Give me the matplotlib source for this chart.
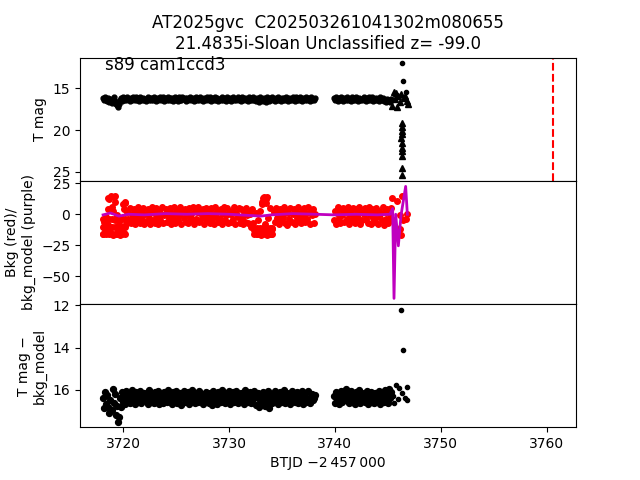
import matplotlib
matplotlib.use('Agg')
import matplotlib.pyplot as plt

# observation times, BTJD - 2457000
btjd = [3718.1, 3718.2, 3718.3, 3718.4, 3718.5, 3718.6, 3718.7, 3718.8, 3718.9, 3719.0,
        3719.1, 3719.2, 3719.3, 3719.4, 3719.5, 3719.6, 3719.7, 3719.8, 3719.9, 3720.0,
        3720.1, 3720.2, 3720.3, 3720.4, 3720.5, 3720.6, 3720.7, 3720.8, 3720.9, 3721.0,
        3721.1, 3721.2, 3721.3, 3721.4, 3721.5, 3721.6, 3721.7, 3721.8, 3721.9, 3722.0,
        3722.1, 3722.2, 3722.3, 3722.4, 3722.5, 3722.6, 3722.7, 3722.8, 3722.9, 3723.0,
        3723.1, 3723.2, 3723.3, 3723.4, 3723.5, 3723.6, 3723.7, 3723.8, 3723.9, 3724.0,
        3724.1, 3724.2, 3724.3, 3724.4, 3724.5, 3724.6, 3724.7, 3724.8, 3724.9, 3725.0,
        3725.1, 3725.2, 3725.3, 3725.4, 3725.5, 3725.6, 3725.7, 3725.8, 3725.9, 3726.0,
        3726.1, 3726.2, 3726.3, 3726.4, 3726.5, 3726.6, 3726.7, 3726.8, 3726.9, 3727.0,
        3727.1, 3727.2, 3727.3, 3727.4, 3727.5, 3727.6, 3727.7, 3727.8, 3727.9, 3728.0,
        3728.1, 3728.2, 3728.3, 3728.4, 3728.5, 3728.6, 3728.7, 3728.8, 3728.9, 3729.0,
        3729.1, 3729.2, 3729.3, 3729.4, 3729.5, 3729.6, 3729.7, 3729.8, 3729.9, 3730.0,
        3730.1, 3730.2, 3730.3, 3730.4, 3730.5, 3730.6, 3730.7, 3730.8, 3730.9, 3731.0,
        3731.1, 3731.2, 3731.3, 3731.4, 3731.5, 3731.6, 3731.7, 3731.8, 3731.9, 3732.0,
        3732.1, 3732.2, 3732.3, 3732.4, 3732.5, 3732.6, 3732.7, 3732.8, 3732.9, 3733.0,
        3733.1, 3733.2, 3733.3, 3733.4, 3733.5, 3733.6, 3733.7, 3733.8, 3733.9, 3734.0,
        3734.1, 3734.2, 3734.3, 3734.4, 3734.5, 3734.6, 3734.7, 3734.8, 3734.9, 3735.0,
        3735.1, 3735.2, 3735.3, 3735.4, 3735.5, 3735.6, 3735.7, 3735.8, 3735.9, 3736.0,
        3736.1, 3736.2, 3736.3, 3736.4, 3736.5, 3736.6, 3736.7, 3736.8, 3736.9, 3737.0,
        3737.1, 3737.2, 3737.3, 3737.4, 3737.5, 3737.6, 3737.7, 3737.8, 3737.9, 3738.0,
        3738.1,
        3739.9, 3740.0, 3740.1, 3740.2, 3740.3, 3740.4, 3740.5, 3740.6, 3740.7, 3740.8,
        3740.9, 3741.0, 3741.1, 3741.2, 3741.3, 3741.4, 3741.5, 3741.6, 3741.7, 3741.8,
        3741.9, 3742.0, 3742.1, 3742.2, 3742.3, 3742.4, 3742.5, 3742.6, 3742.7, 3742.8,
        3742.9, 3743.0, 3743.1, 3743.2, 3743.3, 3743.4, 3743.5, 3743.6, 3743.7, 3743.8,
        3743.9, 3744.0, 3744.1, 3744.2, 3744.3, 3744.4, 3744.5, 3744.6, 3744.7, 3744.8,
        3744.9, 3745.0, 3745.1, 3745.2, 3745.3]

tmag = [16.20, 16.45, 16.05, 16.35, 16.50, 16.15, 16.60, 16.30, 16.75, 16.40,
        16.10, 16.55, 16.85, 17.05, 17.30, 16.90, 16.45, 16.20, 16.50, 16.05,
        16.35, 16.15, 16.45, 16.05, 16.30, 16.50, 16.20, 16.40, 16.00, 16.25,
        16.45, 16.10, 16.35, 16.20, 16.50, 16.05, 16.30, 16.45, 16.15, 16.40,
        16.25, 16.50, 16.05, 16.35, 16.15, 16.45, 16.20, 16.40, 16.00, 16.30,
        16.50, 16.15, 16.40, 16.25, 16.05, 16.45, 16.30, 16.10, 16.50, 16.20,
        16.35, 16.05, 16.45, 16.20, 16.40, 16.15, 16.50, 16.30, 16.05, 16.40,
        16.20, 16.50, 16.10, 16.35, 16.45, 16.00, 16.30, 16.20, 16.50, 16.15,
        16.40, 16.25, 16.05, 16.45, 16.30, 16.15, 16.50, 16.35, 16.10, 16.40,
        16.20, 16.45, 16.05, 16.35, 16.50, 16.15, 16.30, 16.45, 16.00, 16.25,
        16.40, 16.10, 16.50, 16.30, 16.20, 16.45, 16.05, 16.35, 16.15, 16.50,
        16.25, 16.40, 16.05, 16.45, 16.20, 16.35, 16.50, 16.10, 16.30, 16.45,
        16.15, 16.50, 16.25, 16.05, 16.40, 16.30, 16.45, 16.10, 16.35, 16.20,
        16.50, 16.05, 16.40, 16.25, 16.15, 16.45, 16.30, 16.50, 16.10, 16.35,
        16.20, 16.45, 16.05, 16.40, 16.55, 16.20, 16.35, 16.60, 16.10, 16.45,
        16.30, 16.55, 16.15, 16.40, 16.60, 16.05, 16.35, 16.50, 16.20, 16.45,
        16.10, 16.35, 16.50, 16.20, 16.40, 16.05, 16.45, 16.25, 16.50, 16.15,
        16.40, 16.20, 16.45, 16.05, 16.30, 16.50, 16.15, 16.35, 16.45, 16.00,
        16.25, 16.50, 16.10, 16.40, 16.20, 16.45, 16.05, 16.35, 16.50, 16.15,
        16.30, 16.45, 16.10, 16.40, 16.20, 16.50, 16.05, 16.35, 16.25, 16.45,
        16.20,
        16.15, 16.40, 16.05, 16.35, 16.50, 16.20, 16.45, 16.10, 16.30, 16.50,
        16.20, 16.40, 16.05, 16.45, 16.25, 16.35, 16.50, 16.10, 16.40, 16.20,
        16.45, 16.05, 16.30, 16.50, 16.15, 16.40, 16.25, 16.45, 16.05, 16.35,
        16.50, 16.20, 16.40, 16.10, 16.45, 16.30, 16.05, 16.50, 16.25, 16.40,
        16.15, 16.45, 16.30, 16.50, 16.05, 16.40, 16.20, 16.55, 16.35, 16.60,
        16.25, 16.50, 16.40, 16.65, 16.30]

bkg = [-16, -6, -12, -2, -15, -9, 12, -14, 6, -17,
       14, -5, -16, -1, -12, -8, -17, -3, -14, 8,
       -15, 9, -8, 2, -4, 5, -7, 0, -3, 4,
       -8, 1, -5, 6, -2, -7, 3, -4, 5, -8,
       0, -6, 4, -3, -8, 2, 6, -5, 1, -7,
       5, -2, -8, 3, -5, 0, 6, -7, -1, 4,
       -6, 2, -3, 5, -8, 1, -4, 6, -7, 0,
       3, -5, -1, 6, -8, 2, -3, 4, -6, 1,
       -7, 5, -2, 0, -5, 6, -8, 3, -4, 2,
       6, -6, 1, -3, 4, -8, 0, 5, -5, -2,
       2, -7, 5, -4, 0, -8, 6, -2, 3, -6,
       -3, 4, -8, 1, 6, -5, -1, 5, -7, 2,
       0, -6, 3, -4, 6, -8, 1, -2, 5, -7,
       4, -3, -8, 2, -6, 5, -1, -7, 3, 0,
       -10, 4, -7, -13, 1, -16, -5, -12, 3, -17,
       10, -14, 14, -8, 12, -17, -3, -15, 5, -16,
       -12, 2, -6, 5, -3, 0, -8, 4, -5, 1,
       -2, 6, -7, 3, -9, 1, -4, 5, -6, 0,
       4, -8, 2, -3, 6, -5, 0, -7, 3, -2,
       5, -6, 1, -4, 6, -8, 2, -1, 4, -7,
       0,
       -5, 3, -8, 1, 6, -3, -7, 4, -1, 5,
       -6, 2, -4, 6, -8, 0, 3, -5, 5, -2,
       -7, 4, 1, -3, 6, -8, 2, -5, 0, 5,
       -4, 3, -7, 6, -1, -8, 4, -3, 1, -6,
       5, -2, -8, 3, 0, -5, 6, -9, 2, -4,
       4, -7, 1, -3, 5]

tmag_sub = [16.40, 16.85, 16.10, 16.65, 16.25, 16.80, 17.10, 16.50, 16.95, 15.95,
            16.60, 16.20, 17.20, 16.75, 17.50, 17.30, 16.40, 16.80, 16.10, 16.55,
            16.30, 16.65, 16.05, 16.45, 16.20, 16.60, 16.35, 16.00, 16.50, 16.25,
            16.65, 16.10, 16.40, 16.55, 16.20, 16.05, 16.60, 16.35, 16.45, 16.15,
            16.50, 16.25, 16.65, 16.00, 16.40, 16.55, 16.15, 16.30, 16.60, 16.10,
            16.45, 16.20, 16.05, 16.65, 16.35, 16.50, 16.25, 16.60, 16.10, 16.40,
            16.55, 16.00, 16.30, 16.45, 16.20, 16.65, 16.10, 16.50, 16.35, 16.05,
            16.60, 16.25, 16.45, 16.15, 16.70, 16.35, 16.05, 16.55, 16.20, 16.40,
            16.10, 16.65, 16.30, 16.50, 16.00, 16.45, 16.25, 16.60, 16.15, 16.35,
            16.55, 16.05, 16.40, 16.20, 16.65, 16.30, 16.50, 16.10, 16.45, 16.25,
            16.60, 16.15, 16.35, 16.70, 16.05, 16.50, 16.20, 16.40, 16.65, 16.10,
            16.30, 16.55, 16.00, 16.45, 16.25, 16.60, 16.15, 16.35, 16.50, 16.05,
            16.65, 16.20, 16.40, 16.10, 16.55, 16.30, 16.05, 16.60, 16.45, 16.25,
            16.15, 16.50, 16.35, 16.65, 16.00, 16.40, 16.20, 16.55, 16.30, 16.10,
            16.60, 16.25, 16.45, 16.05, 16.70, 16.35, 16.15, 16.80, 16.50, 16.20,
            16.65, 16.10, 16.40, 16.75, 16.30, 16.55, 16.05, 16.85, 16.45, 16.20,
            16.60, 16.35, 16.05, 16.50, 16.20, 16.65, 16.30, 16.10, 16.45, 16.55,
            16.25, 16.00, 16.60, 16.40, 16.15, 16.50, 16.35, 16.65, 16.05, 16.45,
            16.20, 16.55, 16.30, 16.10, 16.60, 16.40, 16.25, 16.50, 16.05, 16.65,
            16.35, 16.15, 16.55, 16.45, 16.05, 16.60, 16.30, 16.20, 16.50, 16.40,
            16.25,
            16.30, 16.60, 16.10, 16.45, 16.20, 16.65, 16.35, 16.05, 16.55, 16.25,
            16.50, 15.95, 16.40, 16.15, 16.60, 16.30, 16.05, 16.55, 16.20, 16.45,
            16.65, 16.10, 16.35, 16.50, 16.00, 16.60, 16.25, 16.40, 16.15, 16.55,
            16.30, 16.05, 16.65, 16.20, 16.45, 16.10, 16.55, 16.35, 16.60, 16.15,
            16.40, 16.25, 16.50, 16.05, 16.65, 16.30, 16.15, 16.55, 16.00, 16.45,
            16.20, 16.60, 15.95, 16.40, 16.10]

# detections and upper limits around the event
flare_t = [3746.30, 3746.46, 3746.72]
flare_mag = [12.0, 14.08, 15.4]
limit_t = [3745.40, 3745.55, 3745.65, 3745.80, 3745.90, 3746.00, 3746.10, 3746.20,
           3746.50, 3746.65, 3746.80, 3746.90,
           3746.30, 3746.30, 3746.35, 3746.30, 3746.25, 3746.30, 3746.35, 3746.30,
           3746.30, 3746.30, 3746.35]
limit_mag = [17.1, 15.5, 16.3, 15.6, 17.2, 15.9, 16.6, 15.7,
             16.2, 15.9, 16.5, 16.9,
             19.1, 19.6, 20.1, 20.5, 21.0, 21.5, 22.1, 22.5,
             23.1, 24.5, 25.4]
trigger_t = 3760.64

# extra background points in the noisy stretches and the event
bkg_extra_t = [3718.05, 3718.05, 3718.05, 3718.35, 3718.35, 3718.35, 3718.65, 3718.65, 3718.65,
               3718.95, 3718.95, 3718.95, 3719.25, 3719.25, 3719.25, 3719.55, 3719.55, 3719.55,
               3719.85, 3719.85, 3719.85, 3720.15, 3720.15, 3720.15,
               3718.60, 3718.60, 3718.85, 3719.00, 3719.20, 3719.20, 3720.05, 3720.15,
               3732.35, 3732.35, 3732.65, 3732.65, 3732.95, 3732.95, 3733.25, 3733.25,
               3733.55, 3733.55, 3733.85, 3733.85, 3734.10, 3734.10,
               3733.15, 3733.25, 3733.45, 3733.60,
               3745.35, 3745.50, 3745.67, 3745.82, 3745.82, 3746.10, 3746.15, 3746.24,
               3746.30, 3746.45, 3746.70, 3746.77]
bkg_extra = [-16, -10, -4, -16, -10, -4, -16, -10, -4,
             -16, -10, -4, -16, -10, -4, -16, -10, -4,
             -16, -10, -4, -16, -10, -4,
             4, 13, 15, 3, 10, 15, 4, 10,
             -16, -11, -16, -11, -16, -11, -16, -11,
             -16, -11, -16, -11, -16, -11,
             8, 13, 9, 14,
             13.5, -5, -10, 10.7, -15.6, -12, -1, -17,
             14.5, -4.3, -4, 0.5]

model_t = [3718.1, 3718.8, 3719.6, 3720.5, 3722.0, 3724.0, 3726.0, 3728.0, 3730.0,
           3732.0, 3733.0, 3734.0, 3736.0, 3738.1, 3739.9, 3742.0, 3744.0, 3745.2,
           3745.45, 3745.58, 3745.74, 3745.99, 3746.24, 3746.68, 3746.84]
bkg_model = [-0.5, 1.0, -1.5, 0.0, -0.5, 0.5, 0.0, 0.5, 0.0,
             -1.0, -1.5, -0.5, 0.5, 0.0, -0.5, 0.0, -0.5, 0.0,
             4.6, -68.0, 0.0, -25.5, -1.0, 22.5, 0.0]

sub_extra_t = [3745.50, 3745.60, 3745.75, 3745.95, 3746.05, 3746.24, 3746.30,
               3746.46, 3746.60, 3746.77, 3746.80]
sub_extra = [16.3, 16.6, 15.75, 16.45, 15.9, 12.2, 16.15,
             14.13, 16.4, 15.85, 16.5]


fig, (ax1, ax2, ax3) = plt.subplots(3, 1, sharex=True, figsize=(6.4, 4.8), dpi=100)
fig.subplots_adjust(hspace=0)

# top: light curve
ax1.plot(btjd, tmag, 'k.', ms=7)
ax1.plot(flare_t, flare_mag, 'k.')
ax1.plot(limit_t, limit_mag, 'k^', ms=4.5)
ax1.axvline(trigger_t, color='r', ls='--', lw=1.5)
ax1.invert_yaxis()
ax1.set_ylabel('T mag')
ax1.text(0.05, 0.9, 's89 cam1ccd3', transform=ax1.transAxes, fontsize=12)
ax1.set_title('AT2025gvc  C202503261041302m080655\n21.4835i-Sloan Unclassified z= -99.0',
              fontsize='large')

# middle: background and model
ax2.plot(btjd, bkg, 'ro', ms=4)
ax2.plot(bkg_extra_t, bkg_extra, 'ro', ms=4)
ax2.plot(model_t, bkg_model, 'm-', lw=2)
ax2.set_ylabel('Bkg (red)/\nbkg_model (purple)')

# bottom: background-subtracted
ax3.plot(btjd, tmag_sub, 'k.', ms=8.5)
ax3.plot(sub_extra_t, sub_extra, 'k.')
ax3.invert_yaxis()
ax3.set_ylabel('T mag \u2212\nbkg_model')
ax3.set_xlabel('BTJD \u22122\u2009457\u2009000')

fig.savefig('out.png')
